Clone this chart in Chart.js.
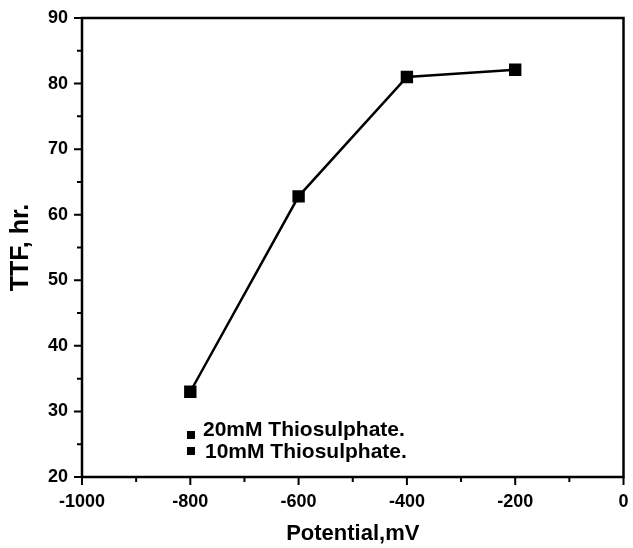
<!DOCTYPE html>
<html>
<head>
<meta charset="utf-8">
<script src="https://cdn.jsdelivr.net/npm/chart.js@4.4.0/dist/chart.umd.min.js"></script>
<style>
html, body { margin: 0; padding: 0; background: #fff; }
#wrap { width: 633px; height: 548px; }
</style>
</head>
<body>
<div id="wrap"><canvas id="myChart"></canvas></div>
<script>
// data
const potential = [-800, -600, -400, -200];
const ttf20 = [33.0, 62.8, 81.0, 82.1];
const ttf10 = []; // no visible points for this series
const seriesNames = ['20mM Thiosulphate.', '10mM Thiosulphate.'];
const xMajor = [-1000, -800, -600, -400, -200, 0];
const yMajor = [20, 30, 40, 50, 60, 70, 80, 90];

const FONT = "'Liberation Sans', Arial, sans-serif";

// box frame + outward tick marks (major long, minor short)
const frameTicks = {
    id: 'frameTicks',
    afterDraw(chart) {
        const {ctx, chartArea: a, scales: {x, y}} = chart;
        ctx.save();
        ctx.strokeStyle = '#000';
        ctx.lineWidth = 2.5;
        ctx.strokeRect(a.left, a.top, a.right - a.left, a.bottom - a.top);
        ctx.lineWidth = 2;
        ctx.beginPath();
        x.ticks.forEach(t => {
            let px = x.getPixelForValue(t.value);
            let len = xMajor.includes(t.value) ? 8 : 5;
            ctx.moveTo(px, a.bottom);
            ctx.lineTo(px, a.bottom + len);
        });
        y.ticks.forEach(t => {
            let py = y.getPixelForValue(t.value);
            let len = yMajor.includes(t.value) ? 8 : 5;
            ctx.moveTo(a.left, py);
            ctx.lineTo(a.left - len, py);
        });
        ctx.stroke();
        ctx.restore();
    }
};

// legend inside the plot, lower left
const innerLegend = {
    id: 'innerLegend',
    afterDraw(chart) {
        const {ctx, chartArea: a} = chart;
        ctx.save();
        ctx.fillStyle = '#000';
        ctx.font = 'bold 21px ' + FONT;
        ctx.textBaseline = 'middle';
        const rows = [{my: 435, ty: 430, tx: 203}, {my: 451, ty: 452, tx: 205}];
        chart.data.datasets.forEach((ds, i) => {
            let r = rows[i];
            ctx.fillRect(a.left + 105, r.my - 4, 8, 8);
            ctx.fillText(ds.label, r.tx, r.ty);
        });
        ctx.restore();
    }
};

const config = {
    type: 'scatter',
    data: {
        datasets: [{
            label: seriesNames[0],
            data: potential.map((p, i) => ({x: p, y: ttf20[i]})),
            showLine: true,
            borderColor: '#000',
            backgroundColor: '#000',
            borderWidth: 2.5,
            pointStyle: 'rect',
            pointRadius: 7,
            pointHoverRadius: 7
        }, {
            label: seriesNames[1],
            data: ttf10,
            showLine: true,
            borderColor: '#000',
            backgroundColor: '#000',
            pointStyle: 'rect',
            pointRadius: 6
        }]
    },
    options: {
        responsive: true,
        maintainAspectRatio: false,
        animation: false,
        layout: {padding: {top: 18, right: 6, left: 0, bottom: 0}},
        plugins: {
            legend: {display: false},
            tooltip: {enabled: false}
        },
        scales: {
            x: {
                min: -1000,
                max: 0,
                afterFit: s => { s.height = 71; s.paddingLeft = 0; s.paddingRight = 0; },
                grid: {drawOnChartArea: false, tickLength: 8, color: 'rgba(0,0,0,0)'},
                border: {display: false},
                ticks: {
                    stepSize: 100,
                    autoSkip: false,
                    maxRotation: 0,
                    padding: 6,
                    color: '#000',
                    font: {family: FONT, size: 18, weight: 'bold'},
                    callback: v => xMajor.includes(v) ? v : ''
                },
                title: {
                    display: true,
                    text: 'Potential,mV',
                    color: '#000',
                    font: {family: FONT, size: 22, weight: 'bold'},
                    padding: {top: 0, bottom: 1}
                }
            },
            y: {
                min: 20,
                max: 90,
                afterFit: s => { s.width = 82; s.paddingTop = 0; s.paddingBottom = 0; },
                grid: {drawOnChartArea: false, tickLength: 8, color: 'rgba(0,0,0,0)'},
                border: {display: false},
                ticks: {
                    stepSize: 5,
                    autoSkip: false,
                    padding: 6,
                    color: '#000',
                    font: {family: FONT, size: 18, weight: 'bold'},
                    callback: v => yMajor.includes(v) ? v : ''
                },
                title: {
                    display: true,
                    text: 'TTF, hr.',
                    color: '#000',
                    font: {family: FONT, size: 25, weight: 'bold'},
                    padding: {top: 6, bottom: 0}
                }
            }
        }
    },
    plugins: [frameTicks, innerLegend]
};

let myChart = new Chart(document.getElementById('myChart'), config);
</script>
</body>
</html>
